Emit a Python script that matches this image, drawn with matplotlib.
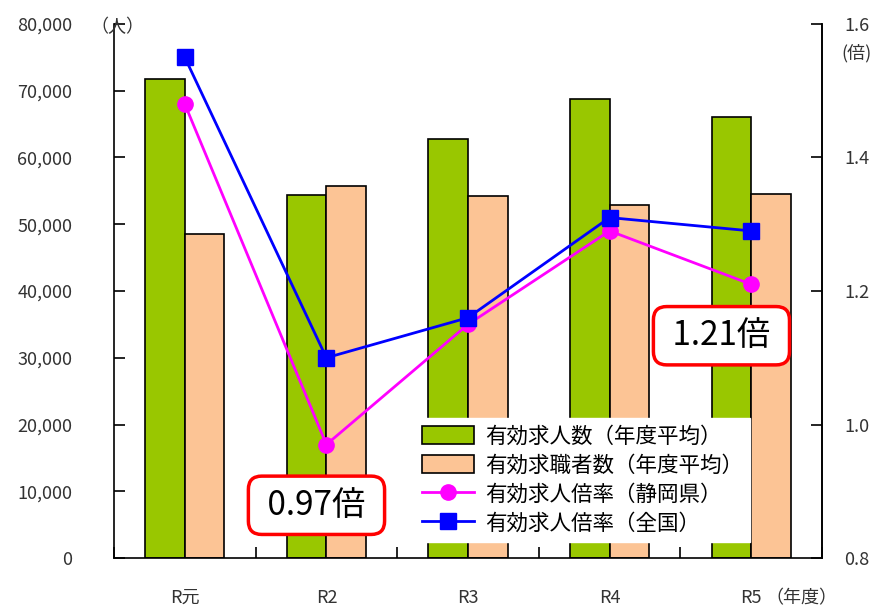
import matplotlib
matplotlib.use('Agg')
import matplotlib.pyplot as plt
from matplotlib.ticker import FuncFormatter
from matplotlib.patches import Patch
from matplotlib.lines import Line2D
import numpy as np

plt.rcParams['font.family'] = ['Noto Sans CJK JP', 'DejaVu Sans']

years = ['R元', 'R2', 'R3', 'R4', 'R5']
job_offers = [71700, 54400, 62700, 68700, 66000]      # 有効求人数
job_seekers = [48600, 55800, 54300, 52900, 54500]     # 有効求職者数
ratio_shizuoka = [1.48, 0.97, 1.15, 1.29, 1.21]
ratio_national = [1.55, 1.10, 1.16, 1.31, 1.29]
left_ticks = [0, 10000, 20000, 30000, 40000, 50000, 60000, 70000, 80000]
right_ticks = [0.8, 1.0, 1.2, 1.4, 1.6]

GREEN = '#99c700'
ORANGE = '#fcc495'
PINK = '#ff00ff'
BLUE = '#0000ff'
GRAY = '#333333'

fig = plt.figure(figsize=(8.81, 6.12), dpi=100)
ax = fig.add_axes([0.1294, 0.0882, 0.8036, 0.8726])
ax2 = ax.twinx()

x = np.arange(len(years))
w = 0.28
ax.bar(x - w / 2, job_offers, w, color=GREEN, edgecolor='black', linewidth=1.2, zorder=2)
ax.bar(x + w / 2, job_seekers, w, color=ORANGE, edgecolor='black', linewidth=1.2, zorder=2)

ax.set_xlim(-0.5, len(years) - 0.5)
ax.set_ylim(0, 80000)
ax.set_yticks(left_ticks)
ax.yaxis.set_major_formatter(FuncFormatter(lambda v, p: '{:,.0f}'.format(v)))
ax.tick_params(axis='y', direction='in', length=8, width=1.2, pad=30,
               labelsize=13, labelcolor=GRAY)
ax.set_xticks(x)
ax.set_xticklabels(years)
ax.set_xticks(np.arange(len(years) + 1) - 0.5, minor=True)
ax.tick_params(axis='x', which='major', length=0, pad=22, labelsize=13, labelcolor=GRAY)
ax.tick_params(axis='x', which='minor', direction='in', length=8, width=1.2)

ax2.plot(x, ratio_shizuoka, color=PINK, lw=2, marker='o', ms=11, zorder=3)
ax2.plot(x, ratio_national, color=BLUE, lw=2, marker='s', ms=11, zorder=4)
ax2.set_ylim(0.8, 1.6)
ax2.set_yticks(right_ticks)
ax2.yaxis.set_major_formatter(FuncFormatter(lambda v, p: '{:.1f}'.format(v)))
ax2.tick_params(axis='y', direction='in', length=8, width=1.2, pad=16,
                labelsize=13, labelcolor=GRAY)

for a in (ax, ax2):
    a.spines['top'].set_visible(False)
    for s in ('left', 'right', 'bottom'):
        a.spines[s].set_linewidth(1.2)
ax2.spines['left'].set_visible(False)
ax2.spines['bottom'].set_visible(False)

# unit labels
fig.text(0.103, 0.956, '（人）', fontsize=13, color=GRAY, va='center', ha='left')
fig.text(0.955, 0.913, '(倍)', fontsize=13, color=GRAY, va='center', ha='left')
fig.text(0.91, 0.022, '（年度）', fontsize=13, color=GRAY, va='center', ha='center')

# callouts
box = dict(boxstyle='round,pad=0.35,rounding_size=0.4', fc='white', ec='red', lw=2.5)
ax2.text(0.93, 0.879, ' 0.97倍 ', fontsize=24, ha='center', va='center', bbox=box, zorder=6)
ax2.text(3.79, 1.133, ' 1.21倍 ', fontsize=24, ha='center', va='center', bbox=box, zorder=6)

handles = [
    Patch(facecolor=GREEN, edgecolor='black', linewidth=1.2),
    Patch(facecolor=ORANGE, edgecolor='black', linewidth=1.2),
    Line2D([], [], color=PINK, lw=2, marker='o', ms=11),
    Line2D([], [], color=BLUE, lw=2, marker='s', ms=11),
]
labels = ['有効求人数（年度平均）', '有効求職者数（年度平均）',
          '有効求人倍率（静岡県）', '有効求人倍率（全国）']
leg = ax2.legend(handles, labels, loc='lower left', bbox_to_anchor=(0.425, 0.03),
                 frameon=True, fontsize=15.5, handlelength=2.4, handleheight=0.9,
                 labelspacing=0.32, borderpad=0.35, handletextpad=0.5,
                 fancybox=False, borderaxespad=0)
leg.get_frame().set_edgecolor('white')
leg.get_frame().set_alpha(1)
leg.set_zorder(10)

fig.savefig('out.png', dpi=100)
